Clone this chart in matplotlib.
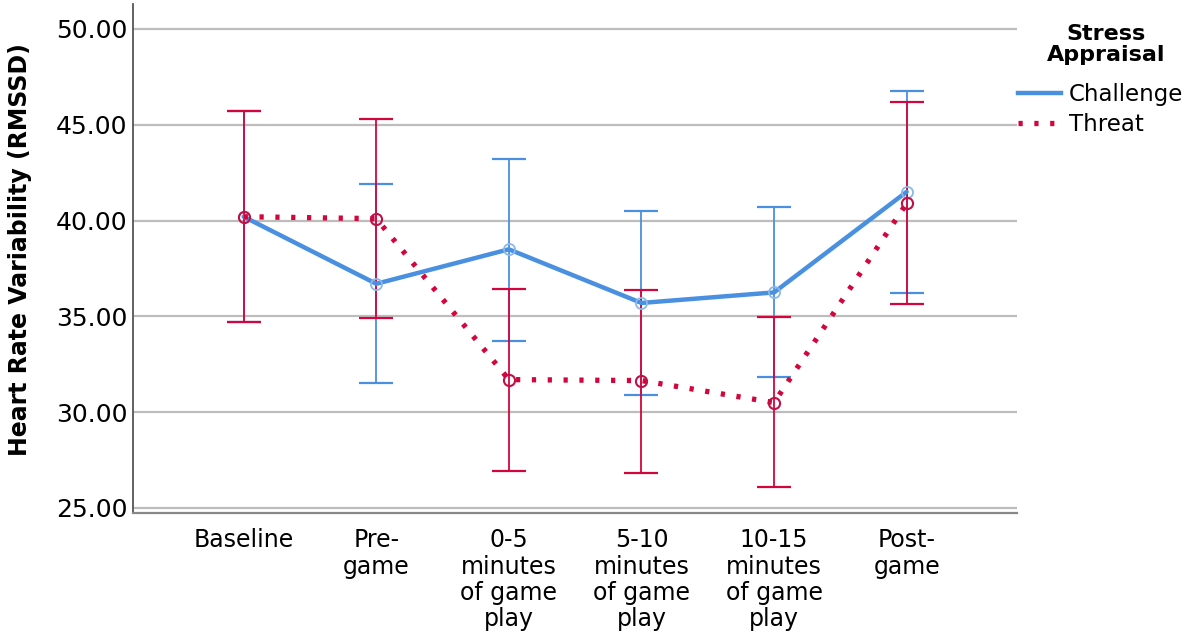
import numpy as np
import matplotlib.pyplot as plt
from matplotlib.lines import Line2D

plt.rcParams['font.family'] = ['DejaVu Sans']

categories = ["Baseline", "Pre-\ngame", "0-5\nminutes\nof game\nplay",
              "5-10\nminutes\nof game\nplay", "10-15\nminutes\nof game\nplay",
              "Post-\ngame"]

# means and 95% CI bounds
challenge_mean = [40.2, 36.7, 38.5, 35.7, 36.25, 41.5]
challenge_low = [34.7, 31.5, 33.7, 30.9, 31.85, 36.2]
challenge_high = [45.7, 41.9, 43.2, 40.5, 40.7, 46.75]

threat_mean = [40.2, 40.1, 31.7, 31.65, 30.5, 40.9]
threat_low = [34.7, 34.9, 26.95, 26.85, 26.1, 35.65]
threat_high = [45.7, 45.3, 36.45, 36.4, 34.95, 46.2]

blue = "#4a90e0"
red = "#d4053d"

x = np.arange(len(categories))

fig = plt.figure(figsize=(12, 6.37), dpi=100)
ax = fig.add_axes([0.1108, 0.1947, 0.737, 0.799])

for yv in [25, 30, 35, 40, 45, 50]:
    ax.axhline(yv, color="#bdbdbd", lw=1.6, zorder=0)

cm = np.array(challenge_mean)
tm = np.array(threat_mean)
ax.errorbar(x, cm, yerr=[cm - np.array(challenge_low), np.array(challenge_high) - cm],
            fmt="none", ecolor=blue, elinewidth=1.3, capsize=12, capthick=1.6, zorder=2)
ax.errorbar(x, tm, yerr=[tm - np.array(threat_low), np.array(threat_high) - tm],
            fmt="none", ecolor=red, elinewidth=1.3, capsize=12, capthick=1.6, zorder=3)

ax.plot(x, cm, color=blue, lw=3.2, solid_capstyle="round", zorder=4)
ax.plot(x, cm, ls="none", marker="o", ms=8, mfc="none", mec="#8ab8ea", mew=1.3, zorder=5)
ax.plot(x, tm, color=red, lw=3.8, ls=(0, (0.8, 2.2)), dash_capstyle="butt", zorder=4)
ax.plot(x, tm, ls="none", marker="o", ms=8, mfc="none", mec="#c01048", mew=1.5, zorder=5)

ax.set_xlim(-0.835, 5.835)
ax.set_ylim(24.74, 51.3)
ax.set_yticks([25, 30, 35, 40, 45, 50])
ax.set_yticklabels(["25.00", "30.00", "35.00", "40.00", "45.00", "50.00"], fontsize=18)
ax.set_xticks(x)
ax.set_xticklabels(categories, fontsize=17, linespacing=1.12, va="top")
ax.tick_params(axis="y", length=0, pad=4)
ax.tick_params(axis="x", length=0, pad=11)

for s in ["top", "right"]:
    ax.spines[s].set_visible(False)
ax.spines["left"].set_color("#555555")
ax.spines["left"].set_linewidth(1.3)
ax.spines["bottom"].set_color("#888888")
ax.spines["bottom"].set_linewidth(1.6)

ax.set_ylabel("Heart Rate Variability (RMSSD)", fontsize=17, fontweight="bold")
ax.yaxis.set_label_coords(-0.114, 0.517)

# legend title drawn separately so the gap to the entries matches
fig.text(0.9215, 1 - 61 / 637, "Stress\nAppraisal", ha="center", va="baseline",
         fontsize=16, fontweight="bold", linespacing=1.05)

handles = [Line2D([], [], color=blue, lw=3.2),
           Line2D([], [], color=red, lw=3.8, ls=(0, (0.8, 2.2)))]
leg = fig.legend(handles, ["Challenge", "Threat"], loc="upper left",
                 bbox_to_anchor=(0.848, 1 - 83 / 637), frameon=False, fontsize=16.5,
                 handlelength=1.9, handletextpad=0.35, labelspacing=0.3,
                 borderaxespad=0, borderpad=0)

fig.savefig("out.png", dpi=100)
